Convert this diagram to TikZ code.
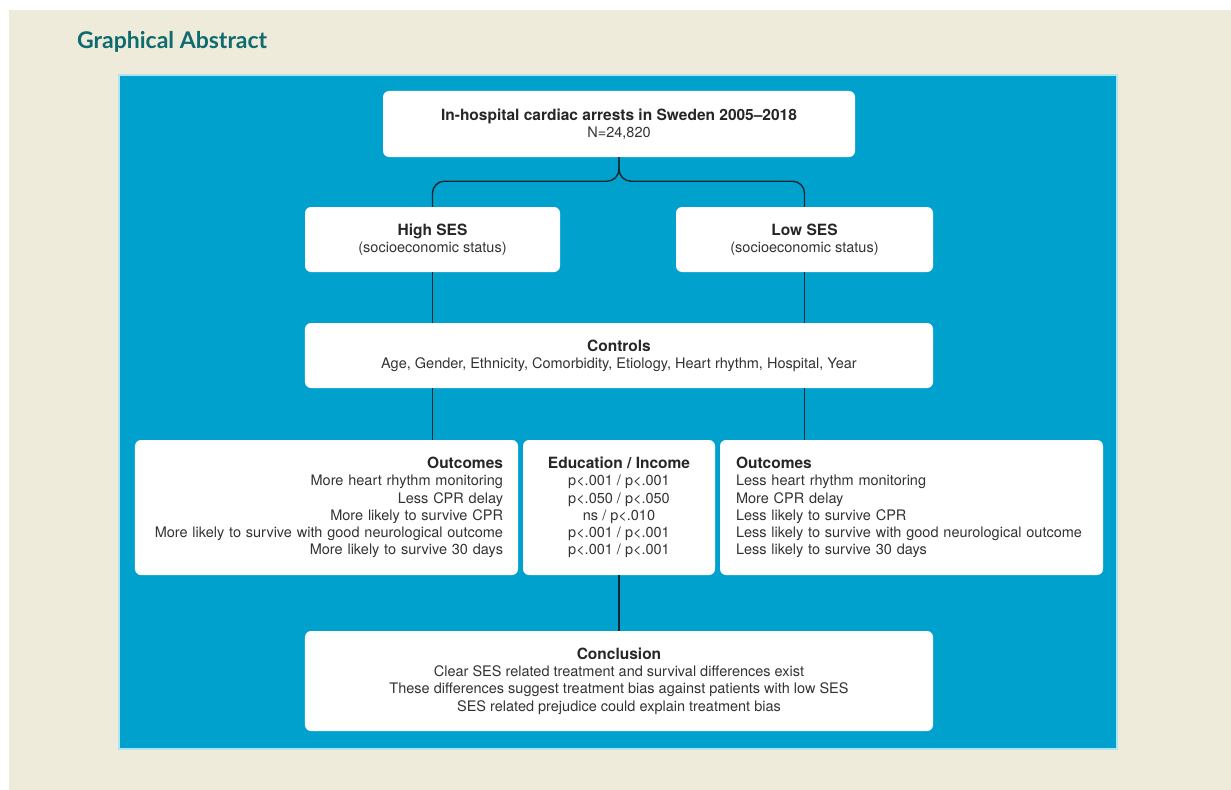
\documentclass[tikz,border=0pt]{standalone}
\usepackage{fontspec}
\setmainfont{TeX Gyre Heros}
\newfontfamily\gafont{Lato}
\usepackage{tikz}

\definecolor{beige}{HTML}{EFEBDB}
\definecolor{panelblue}{HTML}{00A2CD}
\definecolor{teal}{HTML}{0E6B6E}
\definecolor{linedark}{HTML}{1C2530}
\definecolor{txt}{HTML}{333333}

\newcommand\hd[1]{{\fontsize{15.5bp}{17.3bp}\selectfont\bfseries\color{black!85} #1}}

\begin{document}
\begin{tikzpicture}[x=1bp, y=-1bp,
		box/.style={fill=white, rounded corners=6bp, inner sep=0pt, text=txt,
			font=\fontsize{14.5bp}{17.3bp}\selectfont},
		link/.style={draw=linedark, line width=1.4bp}]
	\useasboundingbox (0,0) rectangle (1231,790);
	\fill[beige] (9,10) rectangle (1231,790);
	\node[anchor=west, inner sep=0pt, text=teal, font=\gafont\bfseries\fontsize{23bp}{26bp}\selectfont] (title) at (77,42) {Graphical Abstract};
	\draw[fill=panelblue, draw=white!70!panelblue, line width=1.5bp] (119,75) rectangle (1117,749);
	
	% boxes
	\node[box, align=center, minimum width=472bp, minimum height=66bp] (arrests) at (619,124) {\hd{In-hospital cardiac arrests in Sweden 2005--2018}\\N=24,820};
	\node[box, align=center, minimum width=255bp, minimum height=65bp] (highses) at (432.5,239.5) {\hd{High SES}\\(socioeconomic status)};
	\node[box, align=center, minimum width=257bp, minimum height=65bp] (lowses) at (804.5,239.5) {\hd{Low SES}\\(socioeconomic status)};
	\node[box, align=center, minimum width=628bp, minimum height=65bp] (controls) at (619,355.5) {\hd{Controls}\\Age, Gender, Ethnicity, Comorbidity, Etiology, Heart rhythm, Hospital, Year};
	
	\node[box, align=right, text width=353bp, inner xsep=15bp, minimum height=135bp] (outhigh) at (326.5,507.5) {\hd{Outcomes}\\More heart rhythm monitoring\\Less CPR delay\\More likely to survive CPR\\More likely to survive with good neurological outcome\\More likely to survive 30 days};
	\node[box, align=center, minimum width=192bp, minimum height=135bp] (edinc) at (619,507.5) {\hd{Education / Income}\\p<.001 / p<.001\\p<.050 / p<.050\\ns / p<.010\\p<.001 / p<.001\\p<.001 / p<.001};
	\node[box, align=left, text width=351bp, inner xsep=16bp, minimum height=135bp] (outlow) at (911.5,507.5) {\hd{Outcomes}\\Less heart rhythm monitoring\\More CPR delay\\Less likely to survive CPR\\Less likely to survive with good neurological outcome\\Less likely to survive 30 days};
	
	\node[box, align=center, minimum width=628bp, minimum height=100bp] (concl) at (619,681) {\hd{Conclusion}\\Clear SES related treatment and survival differences exist\\These differences suggest treatment bias against patients with low SES\\SES related prejudice could explain treatment bias};
	
	% connectors
	\draw[link, rounded corners=12bp] (arrests.south) -- ++(0,24) -| (highses.north); % split left
	\draw[link, rounded corners=12bp] (arrests.south) -- ++(0,24) -| (lowses.north); % split right
	\draw[link] (highses.south) -- (highses.south |- controls.north);
	\draw[link] (lowses.south) -- (lowses.south |- controls.north);
	\draw[link] (highses.south |- controls.south) -- (highses.south |- outhigh.north);
	\draw[link] (lowses.south |- controls.south) -- (lowses.south |- outlow.north);
	\draw[link] (edinc.south) -- (concl.north);
\end{tikzpicture}
\end{document}
